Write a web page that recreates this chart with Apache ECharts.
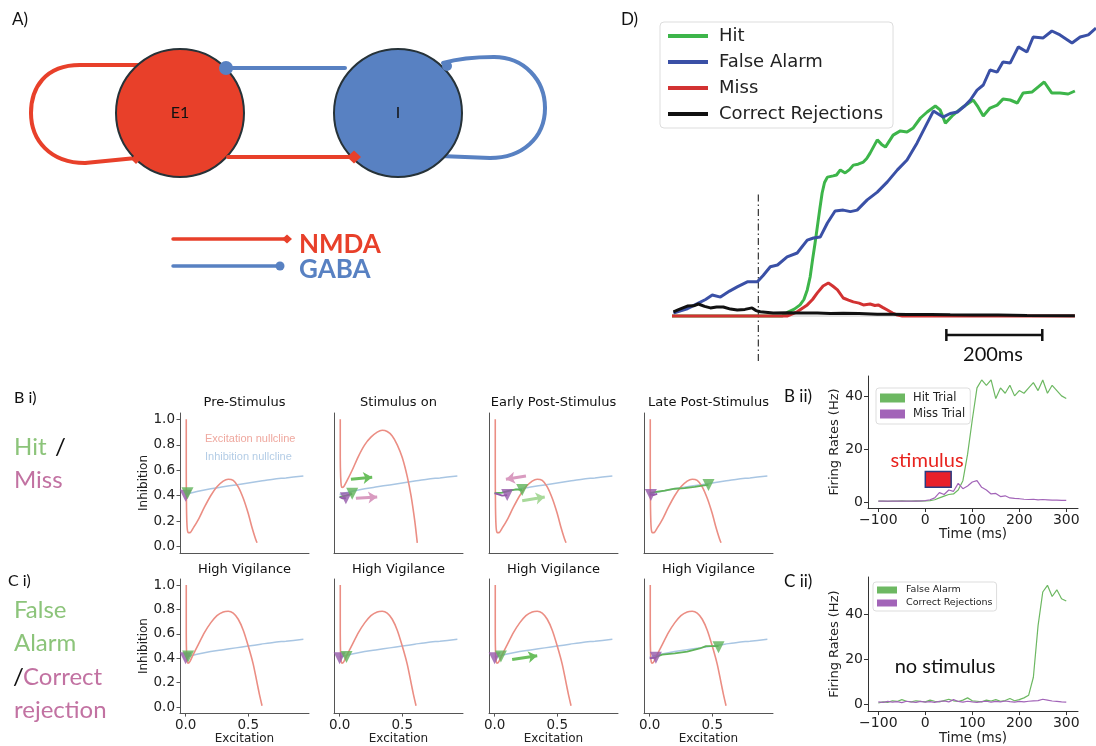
<!DOCTYPE html>
<html><head><meta charset="utf-8">
<script src="https://cdn.jsdelivr.net/npm/echarts@6/dist/echarts.min.js"></script>
<style>html,body{margin:0;padding:0;background:#fff}#c{width:1096px;height:746px}</style>
</head><body><div id="c"></div>
<script>
// ---------------- Panel D : population activity (arbitrary units) ----------------
const dHit = [[-180,0],[50,0],[63,1.4],[75,2.3],[87,3.7],[95,5.5],[102,8.7],[108,13],[113,18.7],[118,24],[123,29.7],[128,35.5],[133,41],[138,44.5],[144,46.3],[156,46.7],[163,47],[171,48.7],[181,47.7],[190,48.8],[198,50.3],[208,50.6],[219,51.3],[226,52.5],[233,54.3],[248,58.7],[257,57.2],[265,56.3],[281,60.3],[296,61.7],[310,61.3],[323,62.7],[338,66],[352,68],[369,70],[379,68.7],[390,64.3],[406,67],[427,69.7],[448,72],[458,69.7],[469,66.7],[483,69.3],[498,70.3],[510,72.3],[525,72],[540,71],[552,74.3],[571,74.7],[583,76.3],[596,78],[612,74.3],[629,74.3],[646,74],[660,75]];
const dFalseAlarm = [[-177,1],[-150,2.3],[-125,4.3],[-110,5.5],[-96,7],[-79,6.3],[-60,8.3],[-44,9.7],[-23,11.4],[-2,11.4],[10,13.5],[25,16.4],[40,17],[60,19.7],[81,21],[102,25.3],[115,26],[129,26.3],[144,31],[160,35],[177,35.3],[192,34.8],[206,35.3],[227,38.7],[248,41.3],[269,44.7],[290,48.7],[310,52],[331,57.7],[352,64.3],[365,68.3],[385,66.3],[400,67.5],[415,68],[430,70],[442,72],[456,75.3],[469,77],[483,82],[498,81.3],[510,84.7],[525,84.3],[542,89.7],[560,88],[573,93],[594,92.7],[612,95],[629,93.7],[654,91],[671,93],[688,93.7],[704,96]];
const dMiss = [[-180,0],[60,0],[81,1.4],[102,3.7],[113,5.5],[123,7.7],[135,10],[146,11],[155,10],[165,8.7],[177,6],[188,5.3],[198,4.7],[210,4.3],[219,3.7],[233,4],[243,3.5],[250,3.7],[260,2.8],[269,2],[280,1],[290,0.3],[300,0],[660,0]];
const dCorrectRej = [[-177,1.4],[-165,2.2],[-148,3.3],[-135,3.4],[-125,4],[-112,3.2],[-100,2.7],[-87,3],[-73,3],[-58,2.3],[-44,2],[-28,2.2],[-13,2.7],[-5,1.8],[4,1.4],[31,1],[60,1.1],[87,1],[123,1],[150,0.8],[177,0.9],[210,0.8],[248,0.6],[280,0.6],[310,0.5],[360,0.5],[400,0.4],[448,0.3],[500,0.3],[560,0.2],[660,0.1]];
const dStimulusMarker = [[0,-15],[0,41.3]];
const dScaleBar = [392, 592];   // 200 ms
const dScaleBarLevel = -6.3;

// ---------------- Panels B ii / C ii : firing rates ----------------
const frTime = [-100,-90,-80,-70,-60,-50,-40,-30,-20,-10,0,10,20,30,40,50,60,70,80,90,100,110,120,130,140,150,160,170,180,190,200,210,220,230,240,250,260,270,280,290,300];
const biiHit  = [0.3,0.3,0.2,0.3,0.3,0.4,0.3,0.3,0.4,0.3,0.4,0.5,0.8,1.5,2.2,2.8,3.0,4.5,8,18,31,43,46,44,46,39,43,41,44,40,42,41,43,45,42,46,41,44,42,40,39];
const biiMiss = [0.3,0.3,0.3,0.3,0.3,0.3,0.3,0.3,0.3,0.4,0.5,0.8,1.5,3.5,2.8,4.5,4,7,5,6,7.5,8,5.5,4.5,3,3.2,2,2.3,1.5,1.3,1.2,1.0,0.9,1.0,0.8,0.9,0.8,0.7,0.7,0.6,0.6];
const ciiFA   = [0.5,1.0,0.8,1.5,1.2,2.0,1.3,1.0,1.5,1.2,1.0,1.8,1.3,1.0,1.6,2.2,1.5,1.2,1.8,2.8,1.5,1.3,1.0,1.8,1.4,2.0,1.3,1.6,2.5,1.5,2.0,2.8,4,12,35,50,53,48,51,47,46];
const ciiCR   = [1.0,0.8,1.2,0.9,1.1,0.7,1.3,1.0,0.8,1.2,0.9,1.1,0.8,1.2,1.4,1.0,2.0,1.2,0.9,1.3,1.0,0.8,1.1,1.3,0.9,1.2,1.0,1.4,1.1,0.9,1.2,1.0,1.3,1.5,1.6,2.2,1.8,1.4,1.2,1.0,0.9];
const stimulusWindow = [0, 55];     // ms
const stimulusBand = [5.5, 11.5];   // Hz
const frTicksX = [-100,0,100,200,300];
const frTicksY = [0,20,40];

// ---------------- Panels B i / C i : phase planes ----------------
const excPre  = [[0.005,1.0],[0.005,0.6],[0.007,0.3],[0.012,0.15],[0.02,0.11],[0.035,0.11],[0.06,0.145],[0.1,0.21],[0.15,0.31],[0.2,0.4],[0.25,0.47],[0.3,0.515],[0.34,0.53],[0.38,0.52],[0.42,0.47],[0.46,0.38],[0.5,0.26],[0.53,0.15],[0.555,0.07],[0.57,0.03]];
const excStim = [[0.005,1.0],[0.005,0.7],[0.008,0.55],[0.013,0.48],[0.02,0.465],[0.035,0.475],[0.06,0.52],[0.1,0.6],[0.15,0.71],[0.2,0.8],[0.25,0.86],[0.3,0.9],[0.34,0.915],[0.38,0.905],[0.42,0.87],[0.46,0.8],[0.5,0.7],[0.54,0.55],[0.57,0.4],[0.6,0.2],[0.62,0.03]];
const excHV   = [[0.005,1.0],[0.005,0.6],[0.008,0.42],[0.013,0.37],[0.02,0.36],[0.035,0.375],[0.06,0.43],[0.1,0.51],[0.15,0.61],[0.2,0.69],[0.25,0.75],[0.3,0.78],[0.34,0.785],[0.38,0.77],[0.42,0.72],[0.46,0.63],[0.5,0.5],[0.54,0.35],[0.57,0.2],[0.59,0.1],[0.61,0.01]];
const inhNull = [[0.0,0.41],[0.1,0.435],[0.2,0.455],[0.3,0.47],[0.4,0.485],[0.5,0.5],[0.6,0.515],[0.7,0.53],[0.8,0.54],[0.94,0.555]];
const ppTitles = ['Pre-Stimulus','Stimulus on','Early Post-Stimulus','Late Post-Stimulus','High Vigilance','High Vigilance','High Vigilance','High Vigilance'];
const ppExc = [excPre, excStim, excPre, excPre, excHV, excHV, excHV, excHV];
const ppGreenMark  = [[0.015,0.42],[0.1,0.415],[0.22,0.445],[0.47,0.485],[0.02,0.415],[0.055,0.41],[0.05,0.415],[0.55,0.49]];
const ppPurpleMark = [[0.0,0.40],[0.05,0.38],[0.1,0.405],[0.01,0.405],[0.0,0.40],[0.0,0.40],[0.0,0.40],[0.05,0.405]];
const ppGreenTraj = [[], [[0.0,0.39],[0.05,0.40],[0.1,0.415]], [[0.0,0.42],[0.06,0.425],[0.12,0.44],[0.17,0.45],[0.22,0.445]], [[0.0,0.42],[0.05,0.43],[0.12,0.44],[0.2,0.455],[0.28,0.46],[0.36,0.47],[0.42,0.48],[0.47,0.485]], [], [], [], [[0.05,0.41],[0.1,0.43],[0.2,0.44],[0.3,0.455],[0.4,0.48],[0.45,0.5],[0.55,0.5]]];
const ppPurpleTraj = [[], [[0.0,0.39],[0.02,0.38],[0.05,0.38]], [[0.0,0.42],[0.03,0.41],[0.06,0.40],[0.1,0.405]], [[0.0,0.41],[0.03,0.405],[0.06,0.415]], [], [], [], [[0.0,0.40],[0.05,0.405]]];
const ppArrows = [[], [{kind:'hit',from:[0.09,0.53],to:[0.26,0.545]},{kind:'miss',from:[0.13,0.38],to:[0.3,0.39]}], [{kind:'miss',from:[0.25,0.555],to:[0.09,0.53]},{kind:'hitLight',from:[0.22,0.36],to:[0.4,0.39]}], [], [], [], [{kind:'hit',from:[0.14,0.39],to:[0.34,0.42]}], []];
const ppTicksY = [0,0.2,0.4,0.6,0.8,1.0];
const ppTicksX = [0,0.5];

// ---------------- styles / layout ----------------
const MPL = 'DejaVu Sans';
const OFF = 'Lato';
const C = {green:'#3DB54A', blue:'#3A50A6', red:'#D23232', black:'#111111',
  hitTrial:'#6DB862', missTrial:'#A264B8', exc:'#EB8E84', inh:'#A9C6E3',
  ppGreen:'#5FB359', ppPurple:'#9559AA', arrow:{hit:'#6BBF5E', miss:'#D99BC0', hitLight:'#A8D99A'}};
const ppLefts = [180,334,489,644];
const ppRows = [{top:413,height:140},{top:579,height:139}];

const grids = [
  {left:672, top:16, width:424, height:345},
  {left:868, top:376, width:210, height:132},
  {left:868, top:577, width:210, height:136}
];
for (let r=0;r<2;r++) for (let c=0;c<4;c++) grids.push({left:ppLefts[c], top:ppRows[r].top, width:129, height:ppRows[r].height});

const minus = v => String(v).replace('-', '\u2212');
const xAxes = [], yAxes = [];
xAxes.push({gridIndex:0, type:'value', min:-180, max:704, show:false});
yAxes.push({gridIndex:0, type:'value', min:-15, max:100, show:false});
function frX(g){return {gridIndex:g, type:'value', min:-122, max:325, splitLine:{show:false},
  axisLine:{onZero:false, lineStyle:{color:'#333', width:1}},
  axisTick:{customValues:frTicksX, length:4, lineStyle:{color:'#333'}},
  axisLabel:{customValues:frTicksX, formatter:minus, fontSize:14, color:'#222', fontFamily:MPL, margin:5},
  name:'Time (ms)', nameLocation:'middle', nameGap:19, nameTextStyle:{fontSize:13.5, color:'#222', fontFamily:MPL}};}
function frY(g,min,max){return {gridIndex:g, type:'value', min:min, max:max, splitLine:{show:false},
  axisLine:{onZero:false, lineStyle:{color:'#333', width:1}},
  axisTick:{customValues:frTicksY, length:4, lineStyle:{color:'#333'}},
  axisLabel:{customValues:frTicksY, fontSize:14, color:'#222', fontFamily:MPL, margin:5},
  name:'Firing Rates (Hz)', nameLocation:'middle', nameGap:22, nameRotate:90, nameTextStyle:{fontSize:13, color:'#222', fontFamily:MPL}};}
xAxes.push(frX(1)); yAxes.push(frY(1,-2.3,47.5));
xAxes.push(frX(2)); yAxes.push(frY(2,-3.1,56.7));
for (let i=0;i<8;i++){
  const g = 3+i, rowC = i>=4, col0 = (i%4)===0;
  xAxes.push({gridIndex:g, type:'value', min:-0.045, max:0.985, splitLine:{show:false},
    axisLine:{onZero:false, lineStyle:{color:'#555', width:1}},
    axisTick:{show:rowC, customValues:ppTicksX, length:3.5, lineStyle:{color:'#555'}},
    axisLabel:{show:rowC, customValues:ppTicksX, formatter:v=>v.toFixed(1), fontSize:13.5, color:'#222', fontFamily:MPL, margin:5},
    name: rowC ? 'Excitation' : '', nameLocation:'middle', nameGap:17, nameTextStyle:{fontSize:12, color:'#222', fontFamily:MPL}});
  yAxes.push({gridIndex:g, type:'value', min:-0.05, max:1.05, splitLine:{show:false},
    axisLine:{onZero:false, lineStyle:{color:'#555', width:1}},
    axisTick:{show:col0, customValues:ppTicksY, length:3.5, lineStyle:{color:'#555'}},
    axisLabel:{show:col0, customValues:ppTicksY, formatter:v=>v.toFixed(1), fontSize:13.5, color:'#222', fontFamily:MPL, margin:5},
    name: col0 ? 'Inhibition' : '', nameLocation:'middle', nameGap:23, nameRotate:90, nameTextStyle:{fontSize:12, color:'#222', fontFamily:MPL}});
}

const series = [];
// Panel D
series.push({type:'line', xAxisIndex:0, yAxisIndex:0, data:[[-180,0],[660,0]], symbol:'none', lineStyle:{color:'#c8c8c8', width:1}, silent:true, z:1});
series.push({name:'Hit', type:'line', xAxisIndex:0, yAxisIndex:0, data:dHit, symbol:'none', color:C.green, lineStyle:{width:3}, z:3});
series.push({name:'False Alarm', type:'line', xAxisIndex:0, yAxisIndex:0, data:dFalseAlarm, symbol:'none', color:C.blue, lineStyle:{width:3}, z:4});
series.push({name:'Miss', type:'line', xAxisIndex:0, yAxisIndex:0, data:dMiss, symbol:'none', color:C.red, lineStyle:{width:3}, z:5});
series.push({name:'Correct Rejections', type:'line', xAxisIndex:0, yAxisIndex:0, data:dCorrectRej, symbol:'none', color:C.black, lineStyle:{width:3}, z:6});
series.push({type:'line', xAxisIndex:0, yAxisIndex:0, data:dStimulusMarker, symbol:'none', lineStyle:{color:'#333', width:1.2, type:[7,3,1.5,3]}, z:2});
series.push({type:'line', xAxisIndex:0, yAxisIndex:0, data:dScaleBar.map(t=>[t,dScaleBarLevel]), symbol:'none', lineStyle:{color:'#111', width:2.5}, z:2});
dScaleBar.forEach(t=>series.push({type:'line', xAxisIndex:0, yAxisIndex:0, data:[[t,dScaleBarLevel-2],[t,dScaleBarLevel+2]], symbol:'none', lineStyle:{color:'#111', width:2.5}, z:2}));

// B ii
series.push({name:'Hit Trial', type:'line', xAxisIndex:1, yAxisIndex:1, data:frTime.map((t,i)=>[t,biiHit[i]]), symbol:'none', color:C.hitTrial, lineStyle:{width:1.2}, z:3,
  markArea:{silent:true, itemStyle:{color:'#E8202A', borderColor:'#2B3A80', borderWidth:1.5}, data:[[{coord:[stimulusWindow[0],stimulusBand[0]]},{coord:[stimulusWindow[1],stimulusBand[1]]}]]}});
series.push({name:'Miss Trial', type:'line', xAxisIndex:1, yAxisIndex:1, data:frTime.map((t,i)=>[t,biiMiss[i]]), symbol:'none', color:C.missTrial, lineStyle:{width:1.2}, z:4});
// C ii
series.push({name:'FA trial', type:'line', xAxisIndex:2, yAxisIndex:2, data:frTime.map((t,i)=>[t,ciiFA[i]]), symbol:'none', color:C.hitTrial, lineStyle:{width:1.2}, z:3});
series.push({name:'CR trial', type:'line', xAxisIndex:2, yAxisIndex:2, data:frTime.map((t,i)=>[t,ciiCR[i]]), symbol:'none', color:C.missTrial, lineStyle:{width:1.2}, z:4});

// Phase planes
for (let i=0;i<8;i++){
  const ax = {xAxisIndex:3+i, yAxisIndex:3+i};
  series.push(Object.assign({type:'line', data:inhNull, symbol:'none', smooth:0.3, lineStyle:{color:C.inh, width:1.5}, z:2, silent:true}, ax));
  series.push(Object.assign({type:'line', data:ppExc[i], symbol:'none', smooth:0.25, lineStyle:{color:C.exc, width:1.6}, z:3, silent:true}, ax));
  if (ppGreenTraj[i].length) series.push(Object.assign({type:'line', data:ppGreenTraj[i], symbol:'none', lineStyle:{color:C.ppGreen, width:1.8}, z:4}, ax));
  if (ppPurpleTraj[i].length) series.push(Object.assign({type:'line', data:ppPurpleTraj[i], symbol:'none', lineStyle:{color:C.ppPurple, width:1.8}, z:4}, ax));
  series.push(Object.assign({type:'scatter', data:[ppPurpleMark[i]], symbol:'triangle', symbolRotate:180, symbolSize:12, itemStyle:{color:C.ppPurple}, z:5}, ax));
  series.push(Object.assign({type:'scatter', data:[ppGreenMark[i]], symbol:'triangle', symbolRotate:180, symbolSize:12, itemStyle:{color:C.ppGreen}, z:6}, ax));
  ppArrows[i].forEach(a=>series.push(Object.assign({type:'lines', coordinateSystem:'cartesian2d', data:[{coords:[a.from,a.to]}], symbol:['none','arrow'], symbolSize:[0,9], lineStyle:{color:C.arrow[a.kind], width:3, opacity:1}, z:7}, ax)));
}

// ---------------- graphic: schematic (A), labels, titles ----------------
const red='#E8402A', blue='#5881C2', ring='#263238';
const T = (text,x,y,size,fill,opt={}) => ({type:'text', x:x, y:y, z:50, style:Object.assign({text:text, fontSize:size, fill:fill, fontFamily:OFF, textAlign:'left', textVerticalAlign:'middle'}, opt)});
const seg = (x1,y1,x2,y2,col,w) => ({type:'line', z:10, shape:{x1,y1,x2,y2}, style:{stroke:col, lineWidth:w, lineCap:'round'}});
const bez = (x1,y1,c1x,c1y,c2x,c2y,x2,y2,col) => ({type:'bezierCurve', z:10, shape:{x1,y1,cpx1:c1x,cpy1:c1y,cpx2:c2x,cpy2:c2y,x2,y2}, style:{stroke:col, lineWidth:4, fill:null, lineCap:'round'}});
const graphics = [
  seg(140,65,80,65,red,4),
  bez(80,65,45,65,31,88,31,113,red),
  bez(31,113,31,140,50,163,85,163,red),
  seg(85,163,136,158,red,4),
  bez(443,63,460,58,478,57,494,57,blue),
  bez(494,57,524,57,545,80,545,108,blue),
  bez(545,108,545,138,522,158,490,158,blue),
  seg(490,158,440,156,blue,4),
  seg(226,68,345,68,blue,4),
  {type:'circle', z:11, shape:{cx:180,cy:113,r:64}, style:{fill:red, stroke:ring, lineWidth:2}},
  {type:'circle', z:11, shape:{cx:398,cy:113,r:64}, style:{fill:blue, stroke:ring, lineWidth:2}},
  Object.assign(seg(228,157,349,157,red,4),{z:12}),
  {type:'polygon', z:12, shape:{points:[[347,157],[354,150.5],[361,157],[354,163.5]]}, style:{fill:red}},
  {type:'polygon', z:12, shape:{points:[[131,159],[136,154],[141,159],[136,164]]}, style:{fill:red}},
  {type:'circle', z:12, shape:{cx:226,cy:68,r:7}, style:{fill:blue}},
  {type:'circle', z:12, shape:{cx:447,cy:66,r:5}, style:{fill:blue}},
  T('E1',180,113,16,'#111',{textAlign:'center'}),
  T('I',398,113,16,'#111',{textAlign:'center'}),
  Object.assign(seg(173,239,284,239,red,3.5),{z:12}),
  {type:'polygon', z:12, shape:{points:[[282,239],[287,234.5],[292,239],[287,243.5]]}, style:{fill:red}},
  Object.assign(seg(173,266,280,266,blue,3.5),{z:12}),
  {type:'circle', z:12, shape:{cx:280,cy:266,r:4.5}, style:{fill:blue}},
  T('NMDA',299,245,26,red,{fontWeight:'bold'}),
  T('GABA',299,270,26,blue,{fontWeight:'bold'}),
  T('A)',12,20,17,'#111'),
  T('D)',621,20,17,'#111'),
  T('200ms',993,355,20,'#111',{textAlign:'center'}),
  T('B i)',14,398,16,'#111'),
  T('Hit',14,447,24,'#8CC47A'),
  T('/',55,447,24,'#111'),
  T('Miss',14,480,24,'#C272A2'),
  T('C i)',8,581,16,'#111'),
  T('False',14,610,24,'#8CC47A'),
  T('Alarm',14,643,24,'#8CC47A'),
  T('/',13,677,24,'#111'),
  T('Correct',23,677,24,'#C272A2'),
  T('rejection',14,710,24,'#C272A2'),
  T('B ii)',784,397,17,'#111'),
  T('C ii)',784,582,17,'#111'),
  T('stimulus',927,461,20,'#E8231E',{textAlign:'center'}),
  T('no stimulus',945,667,20,'#111',{textAlign:'center'}),
  T('Excitation nullcline',205,439,11,'#EFA89F',{fontFamily:'Liberation Sans'}),
  T('Inhibition nullcline',205,457,11,'#B4CDE6',{fontFamily:'Liberation Sans'})
];
for (let i=0;i<8;i++){
  const r = i>=4 ? 1 : 0, c = i%4;
  graphics.push(T(ppTitles[i], ppLefts[c]+64.5, r ? 570 : 403, 13, '#111', {textAlign:'center', fontFamily:MPL}));
}

const chart = echarts.init(document.getElementById('c'), null, {renderer:'canvas'});
chart.setOption({
  animation:false,
  backgroundColor:'#fff',
  grid:grids, xAxis:xAxes, yAxis:yAxes, series:series,
  legend:[
    {data:['Hit','False Alarm','Miss','Correct Rejections'], left:660, top:22, orient:'vertical', icon:'rect', itemWidth:40, itemHeight:4, itemGap:8,
     textStyle:{fontSize:18, fontFamily:MPL, color:'#222', padding:[0,0,0,6]}, borderColor:'#ddd', borderWidth:1, borderRadius:4, padding:[5,10,5,8], backgroundColor:'rgba(255,255,255,0.85)', selectedMode:false},
    {data:['Hit Trial','Miss Trial'], left:876, top:388, orient:'vertical', icon:'rect', itemWidth:25, itemHeight:9, itemGap:4,
     textStyle:{fontSize:11.5, fontFamily:MPL, color:'#222', padding:[0,0,0,3]}, borderColor:'#ddd', borderWidth:1, borderRadius:3, padding:[4,5,4,4], backgroundColor:'rgba(255,255,255,0.85)', selectedMode:false},
    {data:['FA trial','CR trial'], left:873, top:582, orient:'vertical', icon:'rect', itemWidth:20, itemHeight:7, itemGap:3,
     formatter: n => n==='FA trial' ? 'False Alarm' : 'Correct Rejections',
     textStyle:{fontSize:9.5, fontFamily:MPL, color:'#222', padding:[0,0,0,4]}, borderColor:'#ddd', borderWidth:1, borderRadius:3, padding:[3,4,3,4], backgroundColor:'rgba(255,255,255,0.85)', selectedMode:false}
  ],
  graphic:graphics
});
</script></body></html>
